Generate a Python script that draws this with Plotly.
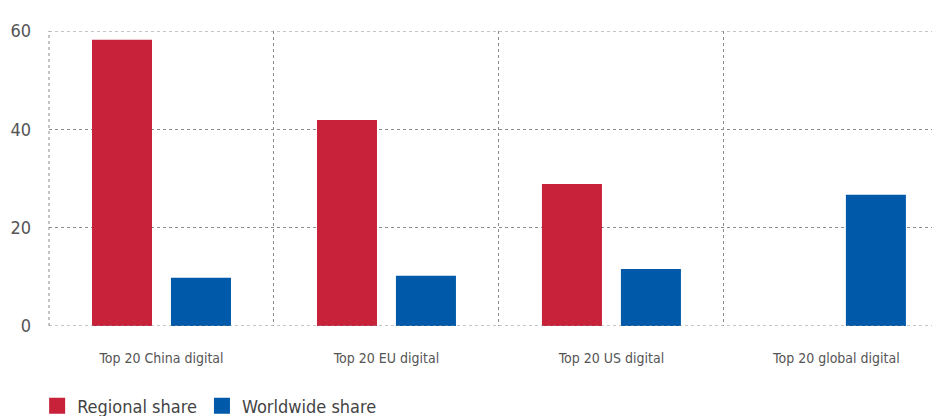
import plotly.graph_objects as go

categories = ["Top 20 China digital", "Top 20 EU digital", "Top 20 US digital", "Top 20 global digital"]
regional_share = [58.2, 41.9, 28.9, None]
worldwide_share = [9.8, 10.2, 11.6, 26.7]

positions = list(range(len(categories)))
font_family = "Liberation Sans Narrow, DejaVu Sans Condensed, Roboto Condensed, Arial Narrow, sans-serif"
red = "#C8223A"
blue = "#005AA9"
grid = "#8c8c8c"

fig = go.Figure()
fig.add_trace(go.Bar(x=positions, y=regional_share, name="Regional share",
                     marker={"color": red, "line": {"width": 0}}, showlegend=False))
fig.add_trace(go.Bar(x=positions, y=worldwide_share, name="Worldwide share",
                     marker={"color": blue, "line": {"width": 0}}, showlegend=False))

# legend-only entries so the swatches are bigger squares
for name, color in [("Regional share", red), ("Worldwide share", blue)]:
    fig.add_trace(go.Scatter(x=[None], y=[None], mode="markers", name=name,
                             marker={"symbol": "square", "size": 16, "color": color}))

# dotted frame lines on the plot edges (plotly skips grid lines there)
for y in (0, 60):
    fig.add_shape(type="line", xref="paper", yref="y", x0=0, x1=1, y0=y, y1=y,
                  line={"color": grid, "width": 1, "dash": "dot"}, layer="above")
fig.add_shape(type="line", xref="paper", yref="paper", x0=0, x1=0, y0=0, y1=1,
              line={"color": grid, "width": 1, "dash": "dot"}, layer="below")

# the page body has an 8px margin, so everything is laid out 8px up/left
fig.update_layout(
    width=940,
    height=416,
    barmode="group",
    bargap=0.298,
    bargroupgap=0.24,
    plot_bgcolor="white",
    paper_bgcolor="white",
    margin={"l": 41, "r": 0, "t": 23, "b": 98, "autoexpand": False},
    font={"family": font_family, "color": "#555555"},
    legend={
        "orientation": "h",
        "xref": "container", "yref": "container",
        "x": 0.031, "xanchor": "left",
        "y": 0.043, "yanchor": "middle",
        "font": {"size": 18, "color": "#444444"},
        "itemwidth": 30,
        "traceorder": "normal",
    },
    showlegend=True,
)

fig.update_xaxes(
    range=[-0.5, 3.496],
    tickmode="array",
    tickvals=positions,
    ticktext=categories,
    showgrid=False,
    zeroline=False,
    ticks="",
    automargin=False,
    tickfont={"size": 14, "color": "#555555"},
    ticklabelstandoff=22,
    minor={
        "tickmode": "array",
        "tickvals": [0.5, 1.5, 2.5],
        "showgrid": True,
        "gridcolor": grid,
        "griddash": "dot",
        "gridwidth": 1,
    },
)

fig.update_yaxes(
    range=[0, 60],
    tickvals=[0, 20, 40, 60],
    showgrid=True,
    gridcolor=grid,
    griddash="dot",
    gridwidth=1,
    zeroline=False,
    automargin=False,
    tickfont={"size": 18, "color": "#555555"},
    ticklabelstandoff=17,
)

fig.write_html("out.html")
